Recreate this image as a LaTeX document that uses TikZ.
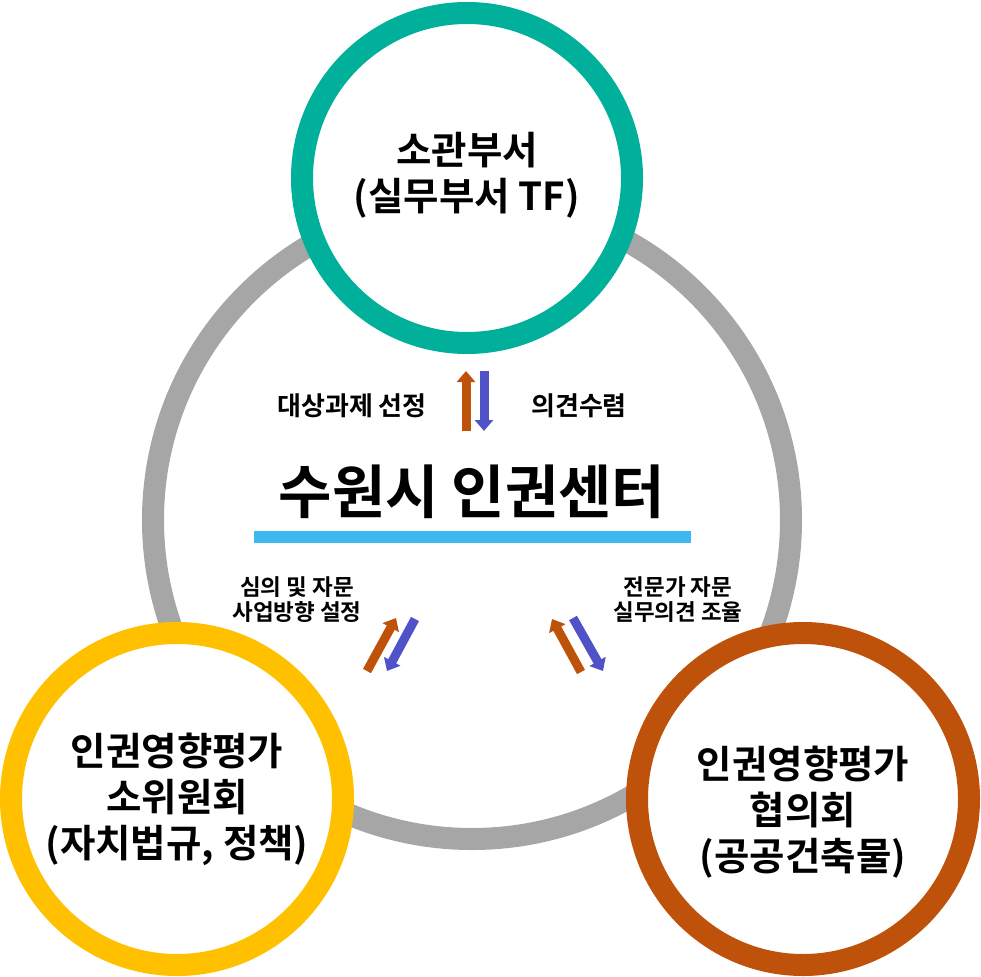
\documentclass[tikz,border=0pt]{standalone}
\usepackage{fontspec}
\setmainfont{Noto Sans CJK KR}[BoldFont={* Bold}]
\usetikzlibrary{arrows.meta}
\definecolor{cgreen}{RGB}{0,176,155}
\definecolor{cyellow}{RGB}{255,192,0}
\definecolor{corange}{RGB}{190,82,10}
\definecolor{cgray}{RGB}{166,166,166}
\definecolor{cblue}{RGB}{62,184,240}
\definecolor{carrowblue}{RGB}{80,82,200}
\tikzset{
  ring/.style={line width=22pt},
  bigtxt/.style={font=\bfseries\fontsize{38.5}{46}\selectfont, align=center},
  toptxt/.style={font=\bfseries\fontsize{26}{30}\selectfont, align=center},
  midtxt/.style={font=\bfseries\fontsize{22.5}{25}\selectfont, align=center},
  titletxt/.style={font=\bfseries\fontsize{58}{66}\selectfont},
  blockarrow/.style={line width=9pt, -{Triangle[width=18pt,length=11pt]}, shorten >=0pt},
}
\begin{document}
\begin{tikzpicture}[x=1pt,y=-1pt]
\useasboundingbox (0,0) rectangle (981,976);
% big gray ring
\draw[ring, cgray] (472,520) circle[radius=319];
% circles
\filldraw[ring, draw=cgreen, fill=white] (467,178) circle[radius=165];
\filldraw[ring, draw=cyellow, fill=white] (177,799) circle[radius=166];
\filldraw[ring, draw=corange, fill=white] (803,799) circle[radius=166];
% circle texts
\node[bigtxt] (top) at (467,175) {소관부서\\(실무부서 TF)};
\node[bigtxt] (left) at (177,799) {인권영향평가\\소위원회\\(자치법규, 정책)};
\node[bigtxt] (right) at (803,812) {인권영향평가\\협의회\\(공공건축물)};
% title
\node[titletxt] (title) at (472,492) {수원시 인권센터};
\fill[cblue] (254,531) rectangle (691,543);
% labels
\node[toptxt] (l1) at (352,406) {대상과제 선정};
\node[toptxt] (l2) at (579,406) {의견수렴};
\node[midtxt] (l3) at (297,600) {심의 및 자문\\사업방향 설정};
\node[midtxt] (l4) at (678,600) {전문가 자문\\실무의견 조율};
% arrows
\coordinate (a1s) at (466,431); \coordinate (a1e) at (466,371);
\coordinate (b1s) at (484,371); \coordinate (b1e) at (484,431);
\coordinate (a2s) at (367,671); \coordinate (a2e) at (396,618);
\coordinate (b2s) at (415,619); \coordinate (b2e) at (387,671);
\coordinate (a3s) at (581,672); \coordinate (a3e) at (552,619);
\coordinate (b3s) at (573,618); \coordinate (b3e) at (603,671);
\draw[blockarrow, corange] (a1s) -- (a1e);
\draw[blockarrow, carrowblue] (b1s) -- (b1e);
\draw[blockarrow, corange] (a2s) -- (a2e);
\draw[blockarrow, carrowblue] (b2s) -- (b2e);
\draw[blockarrow, corange] (a3s) -- (a3e);
\draw[blockarrow, carrowblue] (b3s) -- (b3e);
\end{tikzpicture}
\end{document}
